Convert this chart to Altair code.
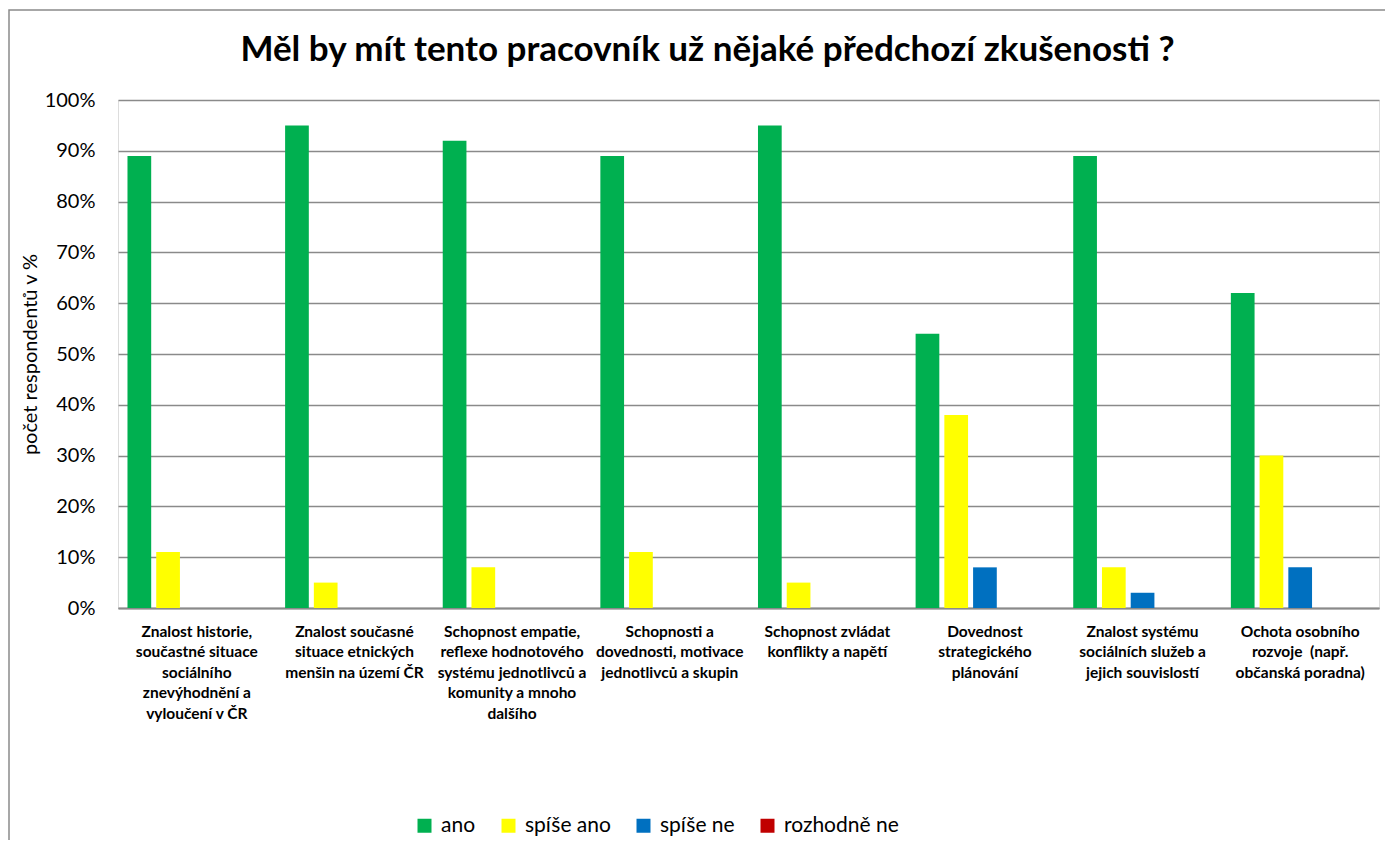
import altair as alt
import pandas as pd

categories = [
    "Znalost historie,\nsoučastné situace\nsociálního\nznevýhodnění a\nvyloučení v ČR",
    "Znalost současné\nsituace etnických\nmenšin na území ČR",
    "Schopnost empatie,\nreflexe hodnotového\nsystému jednotlivců a\nkomunity a mnoho\ndalšího",
    "Schopnosti a\ndovednosti, motivace\njednotlivců a skupin",
    "Schopnost zvládat\nkonflikty a napětí",
    "Dovednost\nstrategického\nplánování",
    "Znalost systému\nsociálních služeb a\njejich souvislostí",
    "Ochota osobního\nrozvoje\u00a0 (např.\nobčanská poradna)",
]
series = ["ano", "spíše ano", "spíše ne", "rozhodně ne"]
colors = ["#00B050", "#FFFF00", "#0070C0", "#C00000"]
slots = series + ["(prázdná řada)"]

ano = [89, 95, 92, 89, 95, 54, 89, 62]
spise_ano = [11, 5, 8, 11, 5, 38, 8, 30]
spise_ne = [0, 0, 0, 0, 0, 8, 3, 8]
rozhodne_ne = [0, 0, 0, 0, 0, 0, 0, 0]

y_ticks = [0, 10, 20, 30, 40, 50, 60, 70, 80, 90, 100]

rows = []
for s, vals in zip(series, [ano, spise_ano, spise_ne, rozhodne_ne]):
    for c, v in zip(categories, vals):
        rows.append({"kategorie": c, "odpověď": s, "hodnota": v})
df = pd.DataFrame(rows)

FONT = "Lato"

bars = alt.Chart(df).mark_bar().encode(
    x=alt.X("kategorie:N", sort=categories,
            scale=alt.Scale(paddingInner=0, paddingOuter=0),
            axis=alt.Axis(title=None, labelAngle=0, labelExpr="split(datum.label, '\\n')",
                          labelFont=FONT, labelFontSize=15.5, labelFontWeight="bold",
                          labelColor="black", labelLineHeight=20.5, labelBaseline="top",
                          labelPadding=16, labelLimit=300, ticks=False,
                          domainColor="#8a8a8a", domainWidth=2, grid=False)),
    xOffset=alt.XOffset("odpověď:N", scale=alt.Scale(domain=slots, paddingInner=0.175, paddingOuter=0.33)),
    y=alt.Y("hodnota:Q", scale=alt.Scale(domain=[0, 100], nice=False),
            axis=alt.Axis(values=y_ticks, labelExpr="datum.value + '%'",
                          title="počet respondentů v %", titleFont=FONT, titleFontSize=20,
                          titleFontWeight="normal", titleColor="black",
                          titleX=-88, titleY=254, titleAngle=270, titleAlign="center",
                          titleBaseline="middle",
                          labelFont=FONT, labelFontSize=20, labelColor="black",
                          labelPadding=23, ticks=False, domain=False,
                          grid=True, gridColor="#8a8a8a", gridWidth=1.3)),
    color=alt.Color("odpověď:N", scale=alt.Scale(domain=series, range=colors),
                    legend=alt.Legend(title=None, orient="none", direction="horizontal",
                                      legendX=296, legendY=715, columns=4,
                                      symbolType="square", symbolSize=196,
                                      symbolStrokeWidth=0, symbolOpacity=1,
                                      labelFont=FONT, labelFontSize=21, labelColor="black",
                                      labelOffset=6, columnPadding=22)),
)

border = alt.Chart(alt.Data(values=[{"r": 1}])).mark_rect(
    fillOpacity=0, stroke="#8a8a8a", strokeWidth=1.5
).encode(
    x=alt.value(-109), x2=alt.value(1400), y=alt.value(-90), y2=alt.value(900)
)

chart = alt.layer(bars, border).properties(
    width=1261, height=508,
    title=alt.TitleParams(
        "Měl by mít tento pracovník už nějaké předchozí zkušenosti ?",
        font=FONT, fontSize=35, fontWeight="bold", color="black",
        anchor="middle", baseline="alphabetic", offset=0, dx=-41, dy=87, frame="group",
    ),
    autosize=alt.AutoSizeParams(type="none"),
    padding={"left": 110, "top": 92, "right": 6, "bottom": 232},
).configure_view(stroke=None).configure(background="white")

chart.save("out.html", embed_options={"renderer": "svg", "actions": False})
